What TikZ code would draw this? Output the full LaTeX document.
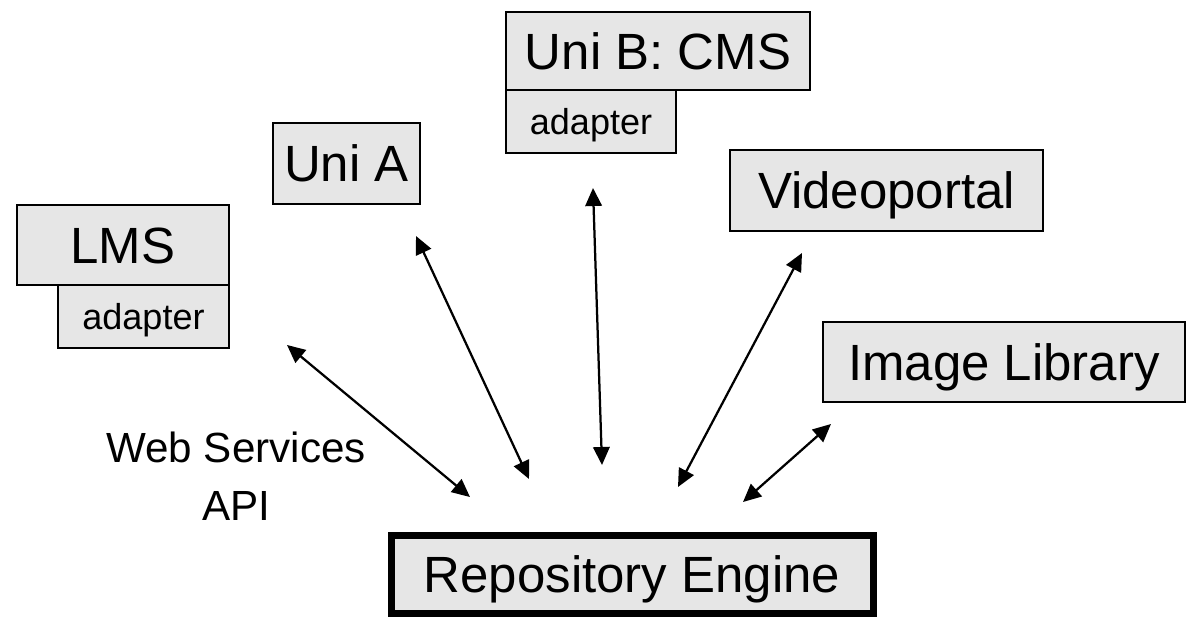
\documentclass[tikz,border=0pt]{standalone}
\usepackage{fontspec}
\setmainfont{Liberation Sans}
\usetikzlibrary{arrows.meta}
\definecolor{boxgray}{RGB}{230,230,230}
\tikzset{
    every node/.style={inner sep=0pt},
    sysbox/.style={draw, fill=boxgray, line width=0.04cm,
        font=\fontsize{29}{34}\selectfont, text height=20.9pt, text depth=0pt},
    adapterbox/.style={sysbox, font=\fontsize{20.5}{24}\selectfont,
        text height=14.8pt},
    enginebox/.style={sysbox, line width=0.14cm},
    link/.style={{Triangle[length=0.36cm,width=0.33cm]}-{Triangle[length=0.36cm,width=0.33cm]},
        line width=0.045cm}
}

\begin{document}
\begin{tikzpicture}
  \useasboundingbox (0,0) rectangle (23.78,-12.38);

  \node (lms) [sysbox, minimum width=4.24cm, minimum height=1.6cm] at (2.46cm, -4.9cm) {LMS};
  \node (lms_ad) [adapterbox, minimum width=3.42cm, minimum height=1.26cm] at (2.87cm, -6.33cm) {adapter};
  \node (uni_a) [sysbox, minimum width=2.94cm, minimum height=1.62cm] at (6.93cm, -3.27cm) {Uni A};
  \node (uni_b) [sysbox, minimum width=6.08cm, minimum height=1.56cm] at (13.16cm, -1.02cm) {Uni B: CMS};
  \node (uni_b_ad) [adapterbox, minimum width=3.4cm, minimum height=1.26cm] at (11.82cm, -2.43cm) {adapter};
  \node (video) [sysbox, minimum width=6.26cm, minimum height=1.62cm] at (17.73cm, -3.81cm) {Videoportal};
  \node (images) [sysbox, minimum width=7.24cm, minimum height=1.6cm] at (20.08cm, -7.24cm) {Image Library};
  \node (repo) [enginebox, minimum width=9.64cm, minimum height=1.56cm] at (12.64cm, -11.48cm) {Repository Engine};
  \node (api) [align=center, font=\fontsize{24}{33}\selectfont] at (4.72cm, -9.52cm) {Web Services\\API};

  % arrow ends
  \coordinate (lms_e) at (5.74cm, -6.9cm);
  \coordinate (lms_r) at (9.4cm, -9.94cm);
  \coordinate (uni_a_e) at (8.32cm, -4.72cm);
  \coordinate (uni_a_r) at (10.58cm, -9.58cm);
  \coordinate (uni_b_e) at (11.86cm, -3.76cm);
  \coordinate (uni_b_r) at (12.04cm, -9.3cm);
  \coordinate (video_e) at (16.04cm, -5.06cm);
  \coordinate (video_r) at (13.56cm, -9.74cm);
  \coordinate (images_e) at (16.62cm, -8.48cm);
  \coordinate (images_r) at (14.86cm, -10.04cm);

  \draw [link] (lms_e) -- (lms_r);
  \draw [link] (uni_a_e) -- (uni_a_r);
  \draw [link] (uni_b_e) -- (uni_b_r);
  \draw [link] (video_e) -- (video_r);
  \draw [link] (images_e) -- (images_r);
\end{tikzpicture}
\end{document}
